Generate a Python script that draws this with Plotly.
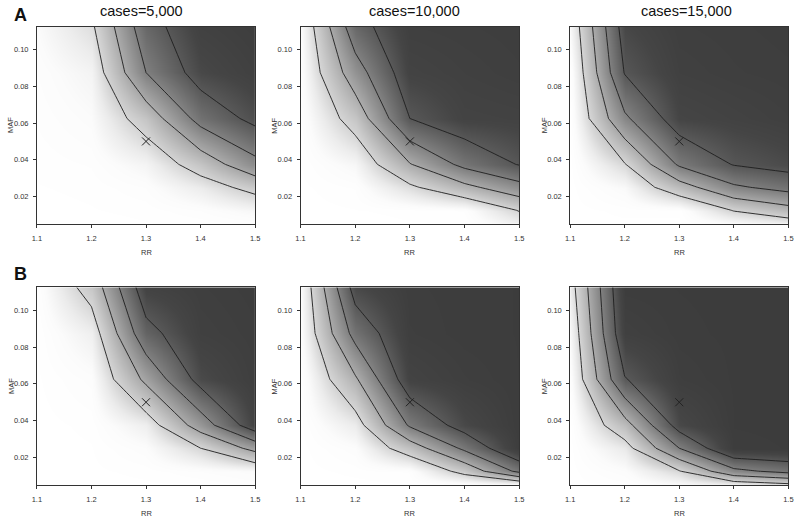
import plotly.graph_objects as go

# ---------------- data ----------------
RR = [1.1, 1.2, 1.3, 1.4, 1.5]
MAF = [0.005, 0.0125, 0.025, 0.0375, 0.0625, 0.0875, 0.1125]

# power grids (rows = MAF ascending, cols = RR ascending)
power_A_5000 = [
    [0.00, 0.00, 0.005, 0.01, 0.02],
    [0.00, 0.005, 0.01, 0.03, 0.07],
    [0.005, 0.01, 0.03, 0.12, 0.257],
    [0.01, 0.02, 0.08, 0.28, 0.545],
    [0.02, 0.05, 0.28, 0.67, 0.85],
    [0.03, 0.084, 0.60, 0.88, 0.95],
    [0.05, 0.17, 0.72, 0.94, 0.98],
]
power_A_10000 = [
    [0.00, 0.00, 0.005, 0.005, 0.10],
    [0.00, 0.005, 0.01, 0.02, 0.21],
    [0.002, 0.02, 0.17, 0.35, 0.53],
    [0.005, 0.07, 0.39, 0.652, 0.81],
    [0.01, 0.275, 0.80, 0.92, 0.93],
    [0.026, 0.51, 0.92, 0.95, 0.97],
    [0.036, 0.72, 0.96, 0.97, 0.98],
]
power_A_15000 = [
    [0.00, 0.003, 0.003, 0.05, 0.10],
    [0.00, 0.01, 0.01, 0.21, 0.33],
    [0.00, 0.06, 0.314, 0.571, 0.667],
    [0.00, 0.19, 0.627, 0.81, 0.87],
    [0.005, 0.567, 0.90, 0.93, 0.96],
    [0.01, 0.81, 0.95, 0.97, 0.98],
    [0.06, 0.89, 0.97, 0.98, 0.99],
]
power_B_5000 = [
    [0.00, 0.00, 0.003, 0.005, 0.02],
    [0.00, 0.003, 0.01, 0.03, 0.049],
    [0.00, 0.005, 0.04, 0.20, 0.46],
    [0.00, 0.01, 0.107, 0.49, 0.92],
    [0.003, 0.036, 0.44, 0.87, 0.97],
    [0.005, 0.104, 0.737, 0.95, 0.98],
    [0.01, 0.27, 0.92, 0.97, 0.99],
]
power_B_10000 = [
    [0.00, 0.00, 0.005, 0.01, 0.02],
    [0.00, 0.01, 0.02, 0.26, 0.65],
    [0.00, 0.04, 0.294, 0.64, 0.99],
    [0.00, 0.12, 0.624, 0.88, 0.995],
    [0.00, 0.374, 0.92, 0.97, 0.995],
    [0.031, 0.668, 0.97, 0.99, 0.995],
    [0.04, 0.88, 0.98, 0.99, 0.995],
]
power_B_15000 = [
    [0.00, 0.01, 0.05, 0.08, 0.15],
    [0.00, 0.04, 0.19, 0.55, 0.66],
    [0.00, 0.13, 0.60, 0.99, 0.995],
    [0.00, 0.32, 0.88, 0.995, 0.997],
    [0.026, 0.79, 0.97, 0.997, 0.998],
    [0.06, 0.95, 0.99, 0.998, 0.999],
    [0.12, 0.99, 0.995, 0.999, 0.999],
]

PANELS = [[power_A_5000, power_A_10000, power_A_15000],
          [power_B_5000, power_B_10000, power_B_15000]]
CASE_LABELS = ["cases=5,000", "cases=10,000", "cases=15,000"]
ROW_LABELS = ["A", "B"]
CONTOUR_START, CONTOUR_END, CONTOUR_STEP = 0.2, 0.8, 0.2
TARGET_RR = [1.3]
TARGET_MAF = [0.05]
X_TICKS = [1.1, 1.2, 1.3, 1.4, 1.5]
Y_TICKS = [0.02, 0.04, 0.06, 0.08, 0.10]

# ---------------- layout geometry (pixels) ----------------
W, H = 800, 519
COL_PX = [(32.3, 253.3), (299.3, 520.7), (572.3, 793.3)]
ROW_PX = [(26.7, 224.0), (287.3, 485.0)]
TITLE_X = [138, 415, 690]

def px_x(p):
    return p / W

def px_y(p):
    return 1 - p / H

FONT = "Arial, Liberation Sans, sans-serif"
GRAYSCALE = [
    [0.00, "#ffffff"],
    [0.05, "#fbfbfb"],
    [0.12, "#ececec"],
    [0.20, "#d6d6d6"],
    [0.40, "#ababab"],
    [0.60, "#808080"],
    [0.80, "#585858"],
    [0.90, "#454545"],
    [1.00, "#3c3c3c"],
]

fig = go.Figure()
layout = dict(
    width=W, height=H, margin=dict(l=0, r=0, t=0, b=0),
    paper_bgcolor="white", plot_bgcolor="white", showlegend=False,
    font=dict(family=FONT, color="#333"),
)
annotations = []

def label(text, xp, yp, size, color="#333", angle=0):
    return dict(text=text, x=px_x(xp), y=px_y(yp), xref="paper",
                yref="paper", xanchor="center", yanchor="middle",
                showarrow=False, textangle=angle,
                font=dict(size=size, color=color, family=FONT))

k = 0
for r in range(2):
    for c in range(3):
        k += 1
        xa = "x" if k == 1 else f"x{k}"
        ya = "y" if k == 1 else f"y{k}"
        z = PANELS[r][c]
        fig.add_trace(go.Heatmap(
            x=RR, y=MAF, z=z, zmin=0, zmax=1, zsmooth="best",
            colorscale=GRAYSCALE, showscale=False, xaxis=xa, yaxis=ya,
            hoverinfo="skip"))
        fig.add_trace(go.Contour(
            x=RR, y=MAF, z=z, showscale=False, xaxis=xa, yaxis=ya,
            autocontour=False,
            contours=dict(start=CONTOUR_START, end=CONTOUR_END,
                          size=CONTOUR_STEP, coloring="none"),
            line=dict(color="#1e1e1e", width=0.9, smoothing=0),
            hoverinfo="skip"))
        fig.add_trace(go.Scatter(
            x=TARGET_RR, y=TARGET_MAF, mode="markers", xaxis=xa, yaxis=ya,
            marker=dict(symbol="x-thin", size=8,
                        line=dict(color="#222", width=1)),
            hoverinfo="skip"))

        x0, x1 = COL_PX[c]
        y0, y1 = ROW_PX[r]
        axcommon = dict(showline=True, mirror=True, linecolor="#333",
                        linewidth=0.8, ticks="outside", ticklen=3,
                        tickwidth=0.8, tickcolor="#333", showgrid=False,
                        zeroline=False,
                        tickfont=dict(size=7.5, color="#333", family=FONT))
        layout["xaxis" if k == 1 else f"xaxis{k}"] = dict(
            axcommon, domain=[px_x(x0), px_x(x1)], range=[1.1, 1.5],
            tickvals=X_TICKS, tickformat=".1f", anchor=ya,
            ticklabelstandoff=4)
        layout["yaxis" if k == 1 else f"yaxis{k}"] = dict(
            axcommon, domain=[px_y(y1), px_y(y0)], range=[0.005, 0.1125],
            tickvals=Y_TICKS, tickformat=".2f", anchor=xa,
            ticklabelstandoff=3)

        annotations.append(label("RR", (x0 + x1) / 2, y1 + 28, 7.5))
        annotations.append(label("MAF", x0 - 26.5, (y0 + y1) / 2, 7.5,
                                 angle=-90))

for c in range(3):
    annotations.append(label(CASE_LABELS[c], TITLE_X[c], 11, 14.5, "#111"))

for r, ypix in enumerate([15, 274]):
    annotations.append(label(f"<b>{ROW_LABELS[r]}</b>", 16, ypix, 18,
                             "#111"))

layout["annotations"] = annotations
fig.update_layout(**layout)
fig.write_html("out.html",
               config={"displayModeBar": False},
               post_script="document.body.style.margin='0px';")
